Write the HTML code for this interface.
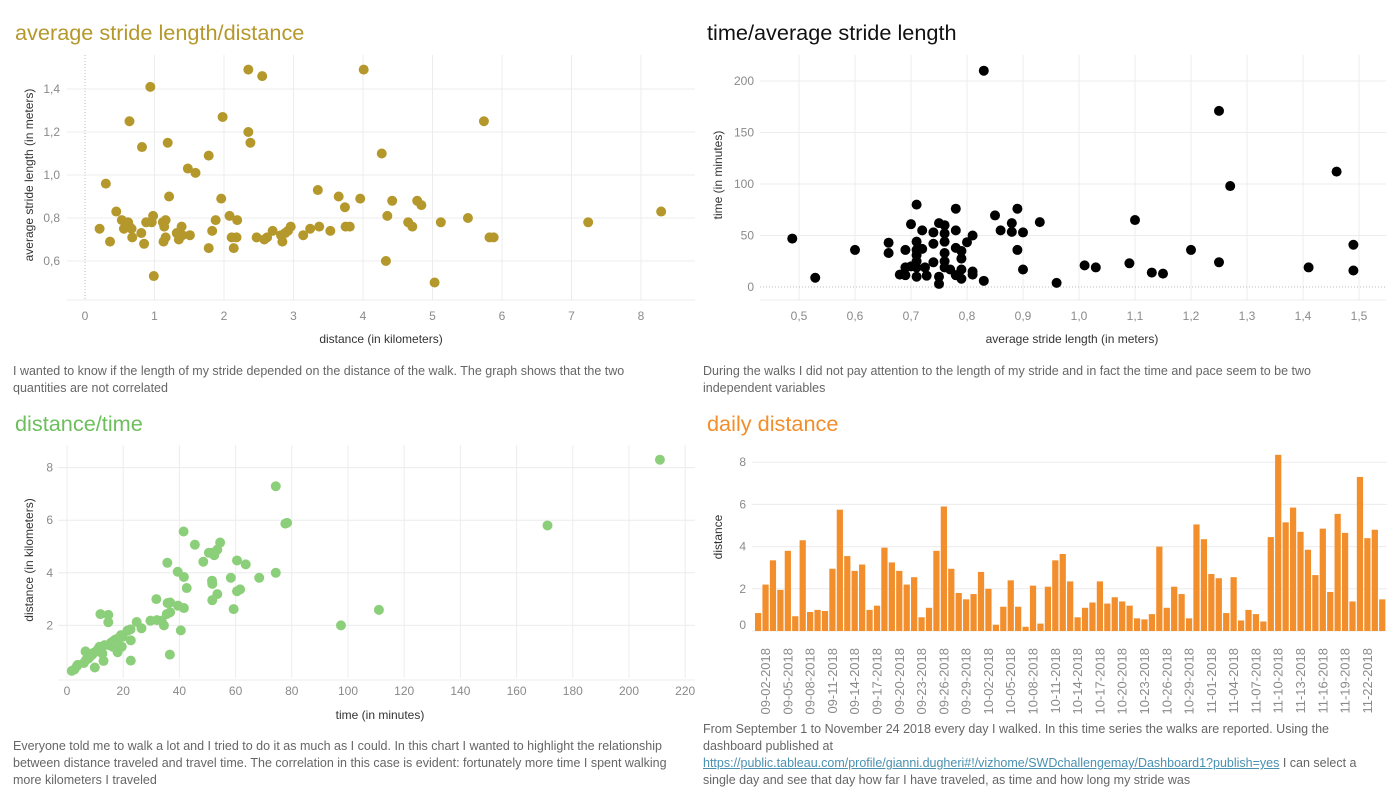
<!DOCTYPE html>
<html><head><meta charset="utf-8">
<style>
body{margin:0;width:1397px;height:798px;background:#fff;overflow:hidden;position:relative;font-family:"Liberation Sans",sans-serif}
.t{position:absolute;font-size:21.7px;white-space:nowrap}
.cap{position:absolute;font-family:"Liberation Sans Narrow","Liberation Sans",sans-serif;font-size:12.5px;color:#666;line-height:17px;white-space:nowrap}
.cap a{color:#4a90b0;text-decoration:underline}
svg{position:absolute;left:0;top:0}
svg text{font-family:"Liberation Sans",sans-serif}
</style></head><body>
<div class="t" style="left:15px;top:20px;color:#b5982c">average stride length/distance</div>
<div class="t" style="left:707px;top:20px;color:#111">time/average stride length</div>
<div class="t" style="left:15px;top:411px;color:#6cbf5c">distance/time</div>
<div class="t" style="left:707px;top:411px;color:#f28e2b">daily distance</div>

<div class="cap" style="left:13px;top:363px">I wanted to know if the length of my stride depended on the distance of the walk. The graph shows that the two<br>quantities are not correlated</div>
<div class="cap" style="left:703px;top:363px">During the walks I did not pay attention to the length of my stride and in fact the time and pace seem to be two<br>independent variables</div>
<div class="cap" style="left:13px;top:738px">Everyone told me to walk a lot and I tried to do it as much as I could. In this chart I wanted to highlight the relationship<br>between distance traveled and travel time. The correlation in this case is evident: fortunately more time I spent walking<br>more kilometers I traveled</div>
<div class="cap" style="left:703px;top:721px">From September 1 to November 24 2018 every day I walked. In this time series the walks are reported. Using the<br>dashboard published at<br><a>https://public.tableau.com/profile/gianni.dugheri#!/vizhome/SWDchallengemay/Dashboard1?publish=yes</a> I can select a<br>single day and see that day how far I have traveled, as time and how long my stride was</div>

<svg id="svg" width="1397" height="798"></svg>
<script>
// chart 1: distance (km) vs stride (m)
const c1Dist=[0.21,0.30,0.36,0.45,0.53,0.56,0.62,0.64,0.64,0.67,0.68,0.81,0.82,0.85,0.88,0.94,0.96,0.98,0.99,1.12,1.13,1.14,1.16,1.16,1.19,1.21,1.32,1.35,1.39,1.40,1.48,1.51,1.59,1.78,1.78,1.83,1.88,1.96,1.98,2.08,2.11,2.14,2.18,2.19,2.35,2.35,2.38,2.47,2.55,2.58,2.62,2.70,2.82,2.84,2.88,2.92,2.96,3.14,3.24,3.35,3.37,3.53,3.65,3.74,3.75,3.81,3.96,4.01,4.27,4.33,4.35,4.42,4.65,4.71,4.78,4.84,5.03,5.12,5.51,5.74,5.82,5.88,7.24,8.29];
const c1Stride=[0.75,0.96,0.69,0.83,0.79,0.75,0.78,1.25,0.76,0.75,0.71,0.73,1.13,0.68,0.78,1.41,0.78,0.81,0.53,0.78,0.69,0.76,0.79,0.71,1.15,0.90,0.73,0.70,0.76,0.72,1.03,0.72,1.01,1.09,0.66,0.74,0.79,0.89,1.27,0.81,0.71,0.66,0.71,0.79,1.49,1.20,1.15,0.71,1.46,0.70,0.71,0.74,0.72,0.69,0.73,0.74,0.76,0.72,0.75,0.93,0.76,0.74,0.90,0.85,0.76,0.76,0.89,1.49,1.10,0.60,0.81,0.88,0.78,0.76,0.88,0.86,0.50,0.78,0.80,1.25,0.71,0.71,0.78,0.83];
const c1XTicks=[0,1,2,3,4,5,6,7,8];
const c1YTicks=[0.6,0.8,1.0,1.2,1.4];
// chart 2: stride (m) vs time (min)
const c2Stride=[0.488,0.529,0.60,0.66,0.66,0.69,0.68,0.69,0.71,0.70,0.72,0.71,0.71,0.72,0.71,0.71,0.69,0.70,0.71,0.725,0.71,0.728,0.74,0.74,0.74,0.75,0.76,0.76,0.76,0.76,0.76,0.76,0.75,0.75,0.78,0.78,0.78,0.77,0.78,0.79,0.79,0.79,0.79,0.80,0.81,0.81,0.81,0.83,0.85,0.86,0.88,0.88,0.89,0.89,0.90,0.90,0.93,0.96,0.83,1.01,1.03,1.09,1.10,1.13,1.15,1.20,1.25,1.25,1.27,1.41,1.46,1.49,1.49];
const c2Time=[47,9,36,43,33,36,12,11.5,80,61,55,44,36,37,31,25,19,20,19,19,10,11,53,42,24,62,60,52,44,33,25,19,10,3,76,55,38,17,11.5,35,27.6,17,8,43.5,50,15,12,6,69.5,55,62,53.5,76,36,53,17,63,4,210,21,19,23,65,14,13,36,171,24,98,19,112,41,16];
const c2XTicks=[0.5,0.6,0.7,0.8,0.9,1.0,1.1,1.2,1.3,1.4,1.5];
const c2YTicks=[0,50,100,150,200];
// chart 3: time (min) vs distance (km)
const c3Time=[1.7,2.6,3.5,3.8,6.0,6.7,6.6,7.6,8.1,9.0,9.5,9.9,10.5,11,11.6,11.9,12.6,13,13.4,14.7,14.7,14.9,15.7,16.3,16.9,17.4,18,18.4,19.2,19.5,19.8,21.5,22.6,22.7,22.7,24.8,26.5,29.7,31.8,32,33.7,34.5,35.5,35.7,35.8,36.6,36.7,36.7,39.4,39.5,40.5,41.5,41.6,41.6,42.6,45.5,48.5,50.5,51.6,51.6,51.7,51.7,52.4,53.5,53.5,54.5,58.3,59.3,60.5,60.5,61.6,63.6,68.4,74.3,74.3,77.7,78.3,97.5,111,171,211];
const c3Dist=[0.27,0.32,0.45,0.5,0.57,0.68,1.01,0.74,0.8,0.89,0.96,0.4,1.01,1.09,1.19,2.43,0.93,0.65,1.25,2.4,2.12,1.25,1.35,1.19,1.44,1.47,0.98,1.52,1.63,1.19,1.57,1.8,1.85,1.43,0.66,2.13,1.89,2.18,3.0,2.2,2.18,2.0,2.43,4.38,2.85,0.89,2.87,2.5,4.04,2.75,1.81,5.57,3.84,2.66,3.42,5.07,4.42,4.76,4.76,3.7,3.58,2.96,4.67,4.88,3.19,5.15,3.81,2.62,4.47,3.3,3.37,4.32,3.81,7.29,4.0,5.87,5.9,2.0,2.59,5.8,8.3];
const c3XTicks=[0,20,40,60,80,100,120,140,160,180,200,220];
const c3YTicks=[2,4,6,8];
// chart 4: daily distance, Sep 1 - Nov 24 2018
const c4Dist=[0.85,2.2,3.35,1.95,3.8,0.7,4.3,0.9,1.0,0.95,2.95,5.75,3.55,2.85,3.15,1.0,1.2,3.95,3.25,2.85,2.2,2.55,0.65,1.1,3.8,5.9,2.95,1.8,1.5,1.75,2.8,2.0,0.3,1.15,2.4,1.15,0.2,2.15,0.35,2.1,3.35,3.65,2.35,0.65,1.1,1.35,2.35,1.3,1.6,1.4,1.2,0.6,0.55,0.8,4.0,1.1,2.1,1.75,0.6,5.05,4.35,2.7,2.5,0.85,2.55,0.5,1.0,0.8,0.45,4.45,8.35,5.15,5.85,4.7,3.85,2.65,4.85,1.85,5.55,4.65,1.4,7.3,4.4,4.8,1.5];
const c4YTicks=[0,2,4,6,8];

const NS='http://www.w3.org/2000/svg';
const svg=document.getElementById('svg');
function mk(tag,attrs,parent){const e=document.createElementNS(NS,tag);for(const k in attrs)e.setAttribute(k,attrs[k]);(parent||svg).appendChild(e);return e;}
function txt(s,attrs){const e=mk('text',attrs);e.textContent=s;return e;}
const GRID='#ececec', TICK='#8a8a8a', TITLE='#333';

// ---------- chart 1 ----------
const x1=v=>85+v*69.5, y1=v=>175-(v-1)*215;
c1XTicks.forEach(t=>{
  let l=mk('line',{x1:x1(t),x2:x1(t),y1:55,y2:300,stroke:t===0?'#bbb':GRID,'stroke-dasharray':t===0?'1,2':'none'});
  
  
  let e=txt(t,{x:x1(t),y:320,'text-anchor':'middle','font-size':12,fill:TICK});
  
  
});
c1YTicks.forEach(t=>{
  let l=mk('line',{x1:67,x2:695,y1:y1(t),y2:y1(t),stroke:GRID});
  
  
  let e=txt(String(t.toFixed(1)).replace('.',','),{x:60,y:y1(t)+4,'text-anchor':'end','font-size':12,fill:TICK});
  
  
});
mk('line',{x1:67,x2:695,y1:300,y2:300,stroke:GRID});
let a=txt('distance (in kilometers)',{x:381,y:343,'text-anchor':'middle','font-size':12,fill:TITLE});


a=txt('average stride length (in meters)',{x:0,y:0,'text-anchor':'middle','font-size':12,fill:TITLE,transform:'translate(33,175) rotate(-90)'});


c1Dist.forEach((d,i)=>{
  let c=mk('circle',{cx:x1(d),cy:y1(c1Stride[i]),r:5,fill:'#b5982c'});
  
  
});

// ---------- chart 2 ----------
const x2=v=>1079+(v-1)*560, y2=v=>287-v*1.03;
c2XTicks.forEach(t=>{
  let l=mk('line',{x1:x2(t),x2:x2(t),y1:55,y2:300,stroke:GRID});
  
  
  let e=txt(t.toFixed(1).replace('.',','),{x:x2(t),y:320,'text-anchor':'middle','font-size':12,fill:TICK});
  
  
});
c2YTicks.forEach(t=>{
  let l=mk('line',{x1:760,x2:1386,y1:y2(t),y2:y2(t),stroke:t===0?'#bbb':GRID,'stroke-dasharray':t===0?'1,2':'none'});
  
  
  let e=txt(t,{x:754,y:y2(t)+4,'text-anchor':'end','font-size':12,fill:TICK});
  
  
});
mk('line',{x1:760,x2:1386,y1:300,y2:300,stroke:GRID});
a=txt('average stride length (in meters)',{x:1072,y:343,'text-anchor':'middle','font-size':12,fill:TITLE});


a=txt('time (in minutes)',{x:0,y:0,'text-anchor':'middle','font-size':12,fill:TITLE,transform:'translate(722,175) rotate(-90)'});


c2Stride.forEach((s,i)=>{
  let c=mk('circle',{cx:x2(s),cy:y2(c2Time[i]),r:5,fill:'#000'});
  
  
});

// ---------- chart 3 ----------
const x3=v=>67+v*2.81, y3=v=>678-v*26.3;
c3XTicks.forEach(t=>{
  let l=mk('line',{x1:x3(t),x2:x3(t),y1:445,y2:678,stroke:GRID});
  
  
  let e=txt(t,{x:x3(t),y:695,'text-anchor':'middle','font-size':12,fill:TICK});
  
  
});
c3YTicks.forEach(t=>{
  let l=mk('line',{x1:58,x2:695,y1:y3(t),y2:y3(t),stroke:GRID});
  
  
  let e=txt(t,{x:53,y:y3(t)+4,'text-anchor':'end','font-size':12,fill:TICK});
  
  
});
mk('line',{x1:58,x2:695,y1:680,y2:680,stroke:GRID});
a=txt('time (in minutes)',{x:380,y:719,'text-anchor':'middle','font-size':12,fill:TITLE});


a=txt('distance (in kilometers)',{x:0,y:0,'text-anchor':'middle','font-size':12,fill:TITLE,transform:'translate(33,560) rotate(-90)'});


c3Time.forEach((t,i)=>{
  let c=mk('circle',{cx:x3(t),cy:y3(c3Dist[i]),r:5,fill:'#8ccf7a'});
  
  
});

// ---------- chart 4 ----------
const slot=7.43, bx0=755, y4=v=>631-v*21.1;
c4YTicks.forEach(t=>{
  let l=mk('line',{x1:752,x2:1387,y1:y4(t),y2:y4(t),stroke:GRID});
  
  
  let e=txt(t,{x:746,y:y4(t)+(t===0?-2:4),'text-anchor':'end','font-size':12,fill:TICK});
  
  
});
a=txt('distance',{x:0,y:0,'text-anchor':'middle','font-size':12,fill:TITLE,transform:'translate(722,537) rotate(-90)'});


const start=new Date(2018,8,1);
c4Dist.forEach((v,i)=>{
  let r=mk('rect',{x:bx0+i*slot,y:y4(v),width:slot-1.2,height:631-y4(v),fill:'#f28e2b'});
  
  
  if(i%3===1){
    const d=new Date(start.getTime()+i*86400000);
    const s=String(d.getMonth()+1).padStart(2,'0')+'-'+String(d.getDate()).padStart(2,'0')+'-2018';
    const cx=bx0+i*slot+(slot-1.2)/2+4.5;
    let e=txt(s,{x:0,y:0,'text-anchor':'end','font-size':13,fill:TICK,transform:'translate('+cx+',648) rotate(-90)'});
    
    
  }
});
</script>
</body></html>
